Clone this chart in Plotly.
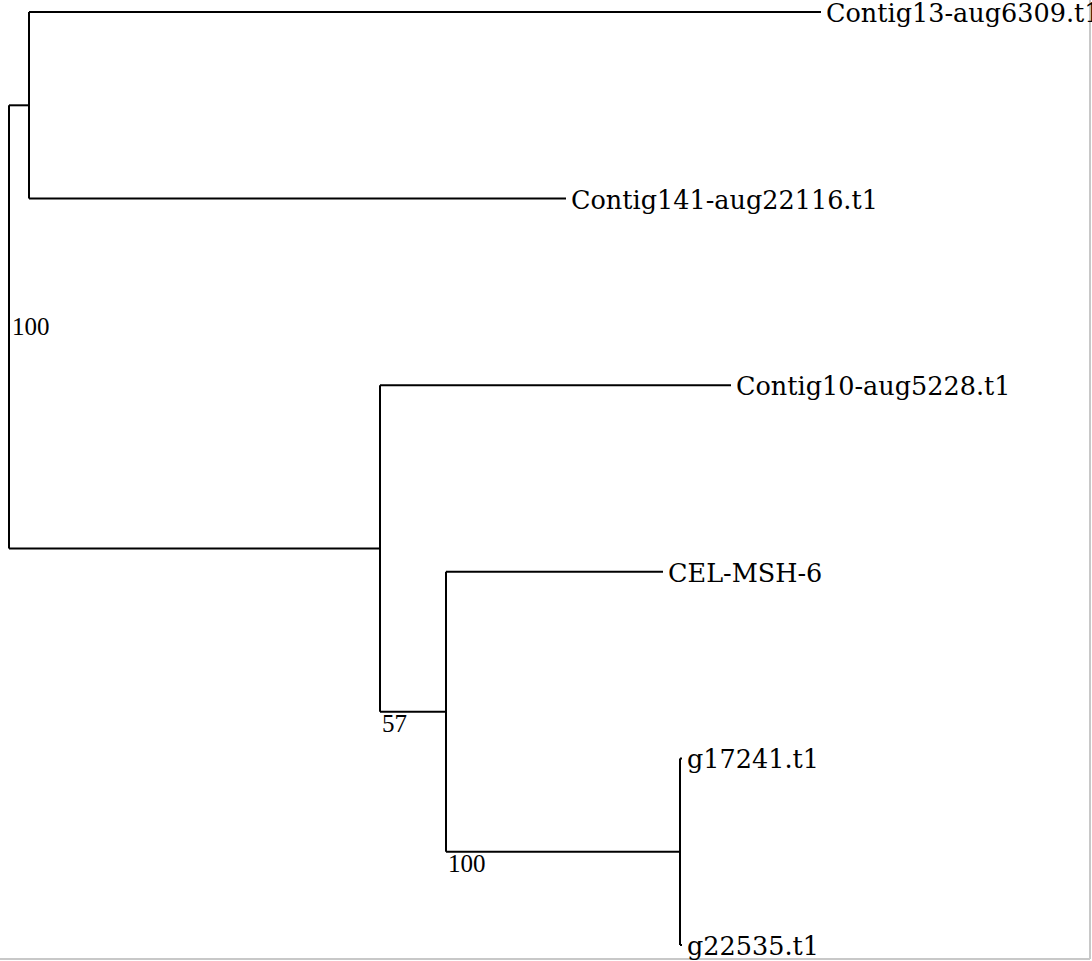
import plotly.graph_objects as go

# ---- tree data ----
node_names = ["root", "n1", "n2", "n3", "n4",
              "Contig13-aug6309.t1", "Contig141-aug22116.t1", "Contig10-aug5228.t1",
              "CEL-MSH-6", "g17241.t1", "g22535.t1"]
node_parents = [None, "root", "root", "n2", "n3",
                "n1", "n1", "n2", "n3", "n4", "n4"]
branch_lengths = [0.0, 0.020, 0.371, 0.066, 0.234,
                  0.792, 0.537, 0.351, 0.217, 0.002, 0.002]
leaf_order = ["Contig13-aug6309.t1", "Contig141-aug22116.t1", "Contig10-aug5228.t1",
              "CEL-MSH-6", "g17241.t1", "g22535.t1"]
support_nodes = ["root", "n3", "n4"]
support_values = [100, 57, 100]

# ---- layout computation ----
parent = dict(zip(node_names, node_parents))
blen = dict(zip(node_names, branch_lengths))
children = {n: [] for n in node_names}
for n, p in parent.items():
    if p is not None:
        children[p].append(n)

xpos = {}
def set_x(n, acc):
    xpos[n] = acc + blen[n]
    for c in children[n]:
        set_x(c, xpos[n])
set_x("root", 0.0)

ypos = {}
def set_y(n):
    if not children[n]:
        ypos[n] = leaf_order.index(n)
    else:
        ys = [set_y(c) for c in children[n]]
        ypos[n] = (min(ys) + max(ys)) / 2
    return ypos[n]
set_y("root")

xs, ys = [], []
for n in node_names:
    if children[n]:
        cy = [ypos[c] for c in children[n]]
        xs += [xpos[n], xpos[n], None]
        ys += [min(cy), max(cy), None]
        for c in children[n]:
            xs += [xpos[n], xpos[c], None]
            ys += [ypos[c], ypos[c], None]

fig = go.Figure()
fig.add_trace(go.Scatter(x=xs, y=ys, mode="lines",
                         line=dict(color="black", width=2),
                         hoverinfo="skip", showlegend=False))

label_font = dict(family="DejaVu Serif", size=25.5, color="black")
for leaf in leaf_order:
    fig.add_annotation(x=xpos[leaf], y=ypos[leaf], text=leaf, showarrow=False,
                       xanchor="left", yanchor="middle", xshift=3, yshift=-1,
                       font=label_font)

sup_font = dict(family="Liberation Serif", size=25, color="black")
for n, v in zip(support_nodes, support_values):
    if parent[n] is None:
        fig.add_annotation(x=xpos[n], y=ypos[n], text=str(v), showarrow=False,
                           xanchor="left", yanchor="middle", xshift=1, yshift=0,
                           font=sup_font)
    else:
        fig.add_annotation(x=xpos[parent[n]], y=ypos[n], text=str(v), showarrow=False,
                           xanchor="left", yanchor="top", xshift=0, yshift=4,
                           font=sup_font)

# border on right and bottom
fig.add_shape(type="line", xref="paper", yref="paper", x0=1, x1=1, y0=0, y1=1,
              line=dict(color="#c8c8c8", width=2))
fig.add_shape(type="line", xref="paper", yref="paper", x0=0, x1=1, y0=0, y1=0,
              line=dict(color="#c8c8c8", width=2))

fig.update_layout(
    width=1092, height=961,
    margin=dict(l=0, r=2, t=0, b=2),
    paper_bgcolor="white", plot_bgcolor="white",
    xaxis=dict(range=[-0.009, 1.081], visible=False, fixedrange=True),
    yaxis=dict(range=[5.075, -0.0643], visible=False, fixedrange=True),
    showlegend=False,
)

fig.write_html("out.html", config={"displayModeBar": False},
               post_script="document.body.style.margin='0';document.body.style.overflow='hidden';")
